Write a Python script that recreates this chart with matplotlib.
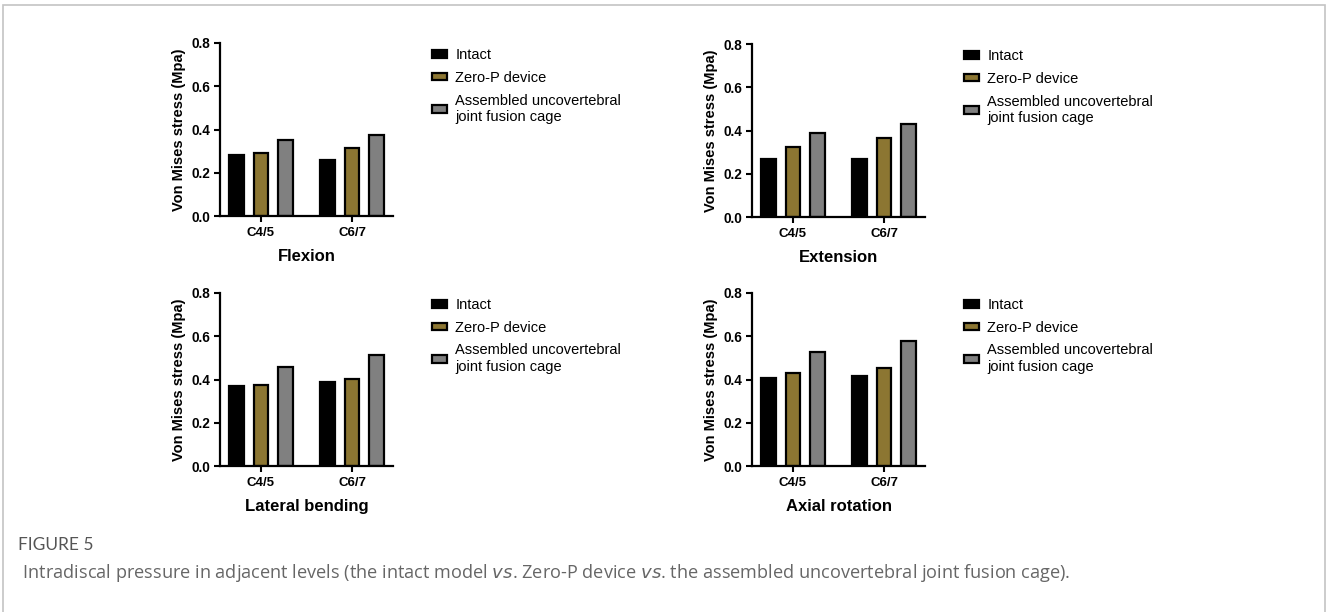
import numpy as np
import matplotlib
matplotlib.use("Agg")
import matplotlib.pyplot as plt
from matplotlib.patches import Rectangle

plt.rcParams['font.family'] = ['Liberation Sans', 'DejaVu Sans']

# data
levels = ["C4/5", "C6/7"]
series = ["Intact", "Zero-P device", "Assembled uncovertebral\njoint fusion cage"]
colors = ["#000000", "#8c7632", "#808080"]
panel_titles = ["Flexion", "Extension", "Lateral bending", "Axial rotation"]

flexion = [[0.28, 0.26], [0.29, 0.315], [0.35, 0.375]]
extension = [[0.27, 0.27], [0.325, 0.366], [0.388, 0.432]]
lateral_bending = [[0.369, 0.388], [0.375, 0.403], [0.457, 0.515]]
axial_rotation = [[0.408, 0.417], [0.43, 0.453], [0.526, 0.576]]
panel_values = [flexion, extension, lateral_bending, axial_rotation]

yticks = [0.0, 0.2, 0.4, 0.6, 0.8]
ylabel = "Von Mises stress (Mpa)"

caption_head = "FIGURE 5"

W, H = 1327, 612
fig = plt.figure(figsize=(W / 100, H / 100), dpi=100)

# panel origins in pixels: (left x, y of 0.0 baseline)
origins = [(220, 216), (752, 217), (220, 466), (752, 466)]
ax_w, ax_h = 173, 173
x = np.arange(len(levels))
offsets = [-0.27, 0.0, 0.27]
bw = 0.16

for (px, py), title, vals in zip(origins, panel_titles, panel_values):
    ax = fig.add_axes([px / W, 1 - py / H, ax_w / W, ax_h / H])
    for i, (name, col) in enumerate(zip(series, colors)):
        ax.bar(x + offsets[i], vals[i], width=bw, color=col, edgecolor="black",
               linewidth=1.6, label=name, zorder=2)
    ax.set_xlim(-0.45, 1.45)
    ax.set_ylim(0, 0.8)
    ax.set_yticks(yticks)
    ax.set_yticklabels([f"{t:.1f}" for t in yticks], fontsize=9.8, fontweight="bold")
    ax.set_xticks(x)
    ax.set_xticklabels(levels, fontsize=9.5, fontweight="bold")
    ax.tick_params(axis="both", width=1.5, length=4, direction="out", pad=3)
    ax.tick_params(axis="x", pad=4)
    for s in ["top", "right"]:
        ax.spines[s].set_visible(False)
    for s in ["left", "bottom"]:
        ax.spines[s].set_linewidth(1.6)
        ax.spines[s].set_zorder(3)
    ax.set_ylabel(ylabel, fontsize=10.5, fontweight="bold", labelpad=4)
    ax.text(0.5, -0.232, title, transform=ax.transAxes, ha="center", va="center",
            fontsize=12, fontweight="bold")
    lx, ly = px + 212, py - 168
    ax.legend(loc="upper left", bbox_to_anchor=(lx / W, 1 - ly / H),
              bbox_transform=fig.transFigure, frameon=False, fontsize=10.5,
              handlelength=1.0, handleheight=0.45, handletextpad=0.6,
              labelspacing=0.6, borderpad=0, borderaxespad=0)

# outer frame
fig.add_artist(Rectangle((3 / W, -0.05), (1325 - 3) / W, 1.05 - 5 / H,
                         transform=fig.transFigure, fill=False,
                         edgecolor="#c4c4c4", linewidth=1.2))

fig.text(18 / W, 1 - 545 / H, caption_head, fontsize=12.5, color="#555555",
         family=["Liberation Sans Narrow", "Lato", "DejaVu Sans"], va="center", ha="left")
fig.text(18 / W, 1 - 573 / H,
         r" Intradiscal pressure in adjacent levels (the intact model $\it{vs}$. Zero-P device "
         r"$\it{vs}$. the assembled uncovertebral joint fusion cage).",
         fontsize=13.1, color="#666666", family=["Open Sans", "DejaVu Sans"],
         va="center", ha="left")

fig.savefig("out.png", dpi=100)
